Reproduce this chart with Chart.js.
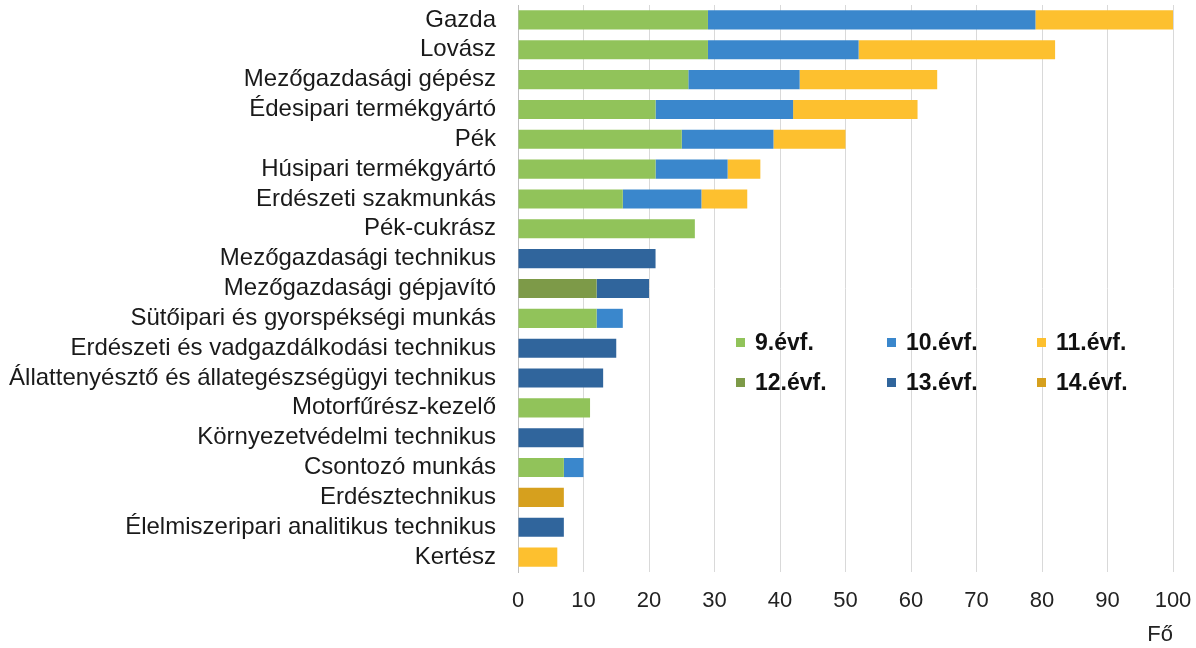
<!DOCTYPE html>
<html>
<head>
<meta charset="utf-8">
<script src="https://cdn.jsdelivr.net/npm/chart.js@4"></script>
<style>
  body { margin: 0; background: #fff; }
  #wrap { position: relative; width: 1196px; height: 648px; }
  #legend {
    position: absolute; left: 736px; top: 328px;
    display: grid; grid-template-columns: 151px 150px 150px; row-gap: 12px;
    font-family: "Liberation Sans", Arial, sans-serif; font-weight: bold; font-size: 23px; color: #111;
  }
  #legend .item { display: flex; align-items: center; height: 28px; }
  #legend .box { width: 9px; height: 9px; margin-right: 10px; }
</style>
</head>
<body>
<div id="wrap">
  <canvas id="chart" width="1196" height="648"></canvas>
  <div id="legend"></div>
</div>
<script>
// Szakmák (kategóriák)
const categories = [
  "Gazda", "Lovász", "Mezőgazdasági gépész", "Édesipari termékgyártó", "Pék",
  "Húsipari termékgyártó", "Erdészeti szakmunkás", "Pék-cukrász",
  "Mezőgazdasági technikus", "Mezőgazdasági gépjavító", "Sütőipari és gyorspékségi munkás",
  "Erdészeti és vadgazdálkodási technikus", "Állattenyésztő és állategészségügyi technikus",
  "Motorfűrész-kezelő", "Környezetvédelmi technikus", "Csontozó munkás",
  "Erdésztechnikus", "Élelmiszeripari analitikus technikus", "Kertész"
];

// Évfolyamonkénti létszámok (fő)
const evf9  = [29, 29, 26, 21, 25, 21, 16, 27, 0, 0, 12, 0, 0, 11, 0, 7, 0, 0, 0];
const evf10 = [50, 23, 17, 21, 14, 11, 12, 0, 0, 0, 4, 0, 0, 0, 0, 3, 0, 0, 0];
const evf11 = [21, 30, 21, 19, 11, 5, 7, 0, 0, 0, 0, 0, 0, 0, 0, 0, 0, 0, 6];
const evf12 = [0, 0, 0, 0, 0, 0, 0, 0, 0, 12, 0, 0, 0, 0, 0, 0, 0, 0, 0];
const evf13 = [0, 0, 0, 0, 0, 0, 0, 0, 21, 8, 0, 15, 13, 0, 10, 0, 0, 7, 0];
const evf14 = [0, 0, 0, 0, 0, 0, 0, 0, 0, 0, 0, 0, 0, 0, 0, 0, 7, 0, 0];

const seriesLabels = ["9.évf.", "10.évf.", "11.évf.", "12.évf.", "13.évf.", "14.évf."];
const xTicks = [0, 10, 20, 30, 40, 50, 60, 70, 80, 90, 100];

const colors = ["#91c35a", "#3a87cc", "#fdc02f", "#7d9a48", "#30659c", "#d6a01e"];
const seriesData = [evf9, evf10, evf11, evf12, evf13, evf14];

const datasets = seriesData.map((d, i) => ({
  label: seriesLabels[i],
  data: d,
  backgroundColor: colors[i],
  borderWidth: 0,
  categoryPercentage: 0.64,
  barPercentage: 1.0
}));

const labelFont = { family: "'Liberation Sans', Arial, sans-serif", size: 24 };
const tickFont = { family: "'Liberation Sans', Arial, sans-serif", size: 22 };

new Chart(document.getElementById("chart"), {
  type: "bar",
  data: { labels: categories, datasets },
  options: {
    indexAxis: "y",
    responsive: false,
    animation: false,
    layout: { padding: { top: 5, right: 23, left: 0, bottom: 0 } },
    plugins: { legend: { display: false }, tooltip: { enabled: false } },
    scales: {
      x: {
        stacked: true,
        min: 0, max: 100,
        afterBuildTicks: s => { s.ticks = xTicks.map(v => ({ value: v })); },
        grid: { color: "#d9d9d9", drawTicks: false },
        border: { display: false },
        ticks: { font: tickFont, color: "#222", padding: 16 },
        title: { display: true, text: "Fő", align: "end", font: tickFont, color: "#222", padding: { top: 4, bottom: 0 } },
        afterFit: s => { s.height = 76; s.paddingLeft = 0; s.paddingRight = 0; }
      },
      y: {
        stacked: true,
        grid: { display: false },
        border: { display: true, color: "#bfbfbf" },
        ticks: { font: labelFont, color: "#1a1a1a", padding: 14, autoSkip: false },
        afterFit: s => { s.width = 518; s.paddingTop = 0; s.paddingBottom = 0; }
      }
    }
  }
});

// Jelmagyarázat
const legend = document.getElementById("legend");
seriesLabels.forEach((l, i) => {
  const item = document.createElement("div");
  item.className = "item";
  item.innerHTML = `<span class="box" style="background:${colors[i]}"></span>${l}`;
  legend.appendChild(item);
});
</script>
</body>
</html>
